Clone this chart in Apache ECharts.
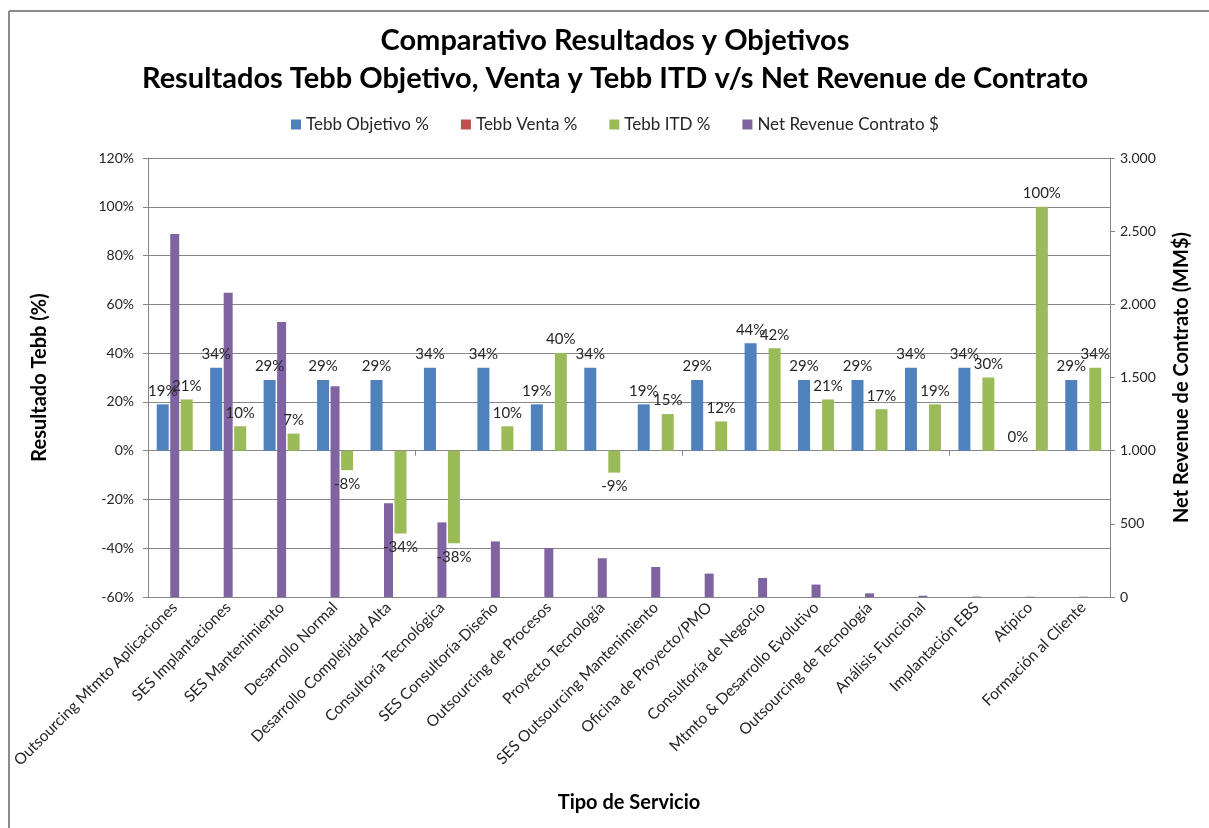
<!DOCTYPE html>
<html><head><meta charset="utf-8">
<script src="https://cdn.jsdelivr.net/npm/echarts@6/dist/echarts.min.js"></script>
<style>html,body{margin:0;padding:0;background:#fff}#c{width:1209px;height:828px}</style>
</head><body><div id="c"></div>
<script>
const categories = [
  'Outsourcing Mtmto Aplicaciones','SES Implantaciones','SES Mantenimiento','Desarrollo Normal',
  'Desarrollo Complejidad Alta','Consultoría Tecnológica','SES Consultoría-Diseño','Outsourcing de Procesos',
  'Proyecto Tecnología','SES Outsourcing Mantenimiento','Oficina de Proyecto/PMO','Consultoría de Negocio',
  'Mtmto & Desarrollo Evolutivo','Outsourcing de Tecnología','Análisis Funcional','Implantación EBS',
  'Atípico','Formación al Cliente'
];
const tebbObjetivo = [19,34,29,29,29,34,34,19,34,19,29,44,29,29,34,34,0,29];
const tebbVenta    = [null,null,null,null,null,null,null,null,null,null,null,null,null,null,null,null,null,null];
const tebbITD      = [21,10,7,-8,-34,-38,10,40,-9,15,12,42,21,17,19,30,100,34];
const netRevenue   = [2480,2080,1880,1440,640,510,380,335,265,205,160,130,85,25,9,3,2,2];
const seriesNames  = ['Tebb Objetivo %','Tebb Venta %','Tebb ITD %','Net Revenue Contrato $'];
const titleLines   = ['Comparativo Resultados y Objetivos',
                      'Resultados Tebb Objetivo, Venta y Tebb ITD v/s Net Revenue de Contrato'];
const pctAxis = {min:-60, max:120, interval:20};
const revAxis = {min:0, max:3000, interval:500};

const FONT = 'Lato, "Open Sans", sans-serif';
const TXT = '#262626';
const GRAY = '#868686';
const chart = echarts.init(document.getElementById('c'), null, {renderer:'canvas'});
const fmtThousands = v => String(v).replace(/\B(?=(\d{3})+(?!\d))/g, '.');
const pctLabel = {show:true, distance:6, formatter:p => p.value + '%',
  color:TXT, fontFamily:FONT, fontSize:15};
const withLabelPos = arr => arr.map(v => ({value:v, label:{position: v < 0 ? 'bottom' : 'top'}}));
const titleStyle = {fontFamily:FONT, fontWeight:'bold', fontSize:29, color:'#000', lineHeight:38};

chart.setOption({
  animation:false,
  backgroundColor:'#fff',
  textStyle:{fontFamily:FONT},
  title:[
    {text:titleLines[0], left:610, textAlign:'center', top:17, textStyle:titleStyle},
    {text:titleLines[1], left:610, textAlign:'center', top:55, textStyle:titleStyle}
  ],
  legend:{
    data:seriesNames, top:111, left:286, itemWidth:10, itemHeight:10, itemGap:32, icon:'rect',
    textStyle:{fontFamily:FONT, fontSize:17, color:TXT}
  },
  grid:{left:148, right:99, top:158, bottom:231},
  xAxis:[
    {type:'category', data:categories, position:'bottom',
     axisLine:{onZero:true, onZeroAxisIndex:0, lineStyle:{color:GRAY}},
     axisTick:{show:true, length:5, lineStyle:{color:GRAY}},
     axisLabel:{show:false}, splitLine:{show:false}},
    {type:'category', data:categories, position:'bottom',
     axisLine:{show:false, onZero:false}, axisTick:{show:false},
     axisLabel:{show:true, rotate:45, interval:0, margin:8, color:TXT, fontFamily:FONT, fontSize:15.5},
     name:'Tipo de Servicio', nameLocation:'middle', nameGap:196,
     nameTextStyle:{fontFamily:FONT, fontWeight:'bold', fontSize:20, color:'#000'}}
  ],
  yAxis:[
    {type:'value', min:pctAxis.min, max:pctAxis.max, interval:pctAxis.interval, position:'left',
     axisLine:{show:true, lineStyle:{color:GRAY}},
     axisTick:{show:true, length:5, lineStyle:{color:GRAY}},
     axisLabel:{formatter:v => v + '%', color:TXT, fontFamily:FONT, fontSize:14, margin:14},
     splitLine:{show:true, lineStyle:{color:GRAY, width:1}},
     name:'Resultado Tebb (%)', nameLocation:'middle', nameGap:98,
     nameTextStyle:{fontFamily:FONT, fontWeight:'bold', fontSize:20, color:'#000'}},
    {type:'value', min:revAxis.min, max:revAxis.max, interval:revAxis.interval, position:'right',
     axisLine:{show:true, lineStyle:{color:GRAY}},
     axisTick:{show:true, length:5, lineStyle:{color:GRAY}},
     axisLabel:{formatter:v => fmtThousands(v), color:TXT, fontFamily:FONT, fontSize:14, margin:10},
     splitLine:{show:false},
     name:'Net Revenue de Contrato (MM$)', nameLocation:'middle', nameGap:62, nameRotate:90,
     nameTextStyle:{fontFamily:FONT, fontWeight:'bold', fontSize:20, color:'#000'}}
  ],
  series:[
    {name:seriesNames[0], type:'bar', xAxisIndex:0, yAxisIndex:0, data:withLabelPos(tebbObjetivo),
     barWidth:12, barGap:'0%', itemStyle:{color:'#4F81BD'}, label:pctLabel, z:3},
    {name:seriesNames[1], type:'bar', xAxisIndex:0, yAxisIndex:0, data:tebbVenta,
     barWidth:12, barGap:'0%', itemStyle:{color:'#C0504D'}, z:3},
    {name:seriesNames[2], type:'bar', xAxisIndex:0, yAxisIndex:0, data:withLabelPos(tebbITD),
     barWidth:12, barGap:'0%', itemStyle:{color:'#9BBB59'}, label:pctLabel, z:3},
    {name:seriesNames[3], type:'bar', xAxisIndex:1, yAxisIndex:1, data:netRevenue,
     barWidth:9, itemStyle:{color:'#8064A2'}, z:2}
  ],
  graphic:[
    {type:'line', shape:{x1:9, y1:11, x2:1209, y2:11}, style:{stroke:'#8c8c8c', lineWidth:2}, silent:true},
    {type:'line', shape:{x1:9, y1:11, x2:9, y2:828}, style:{stroke:'#8c8c8c', lineWidth:2}, silent:true}
  ]
});
</script></body></html>
